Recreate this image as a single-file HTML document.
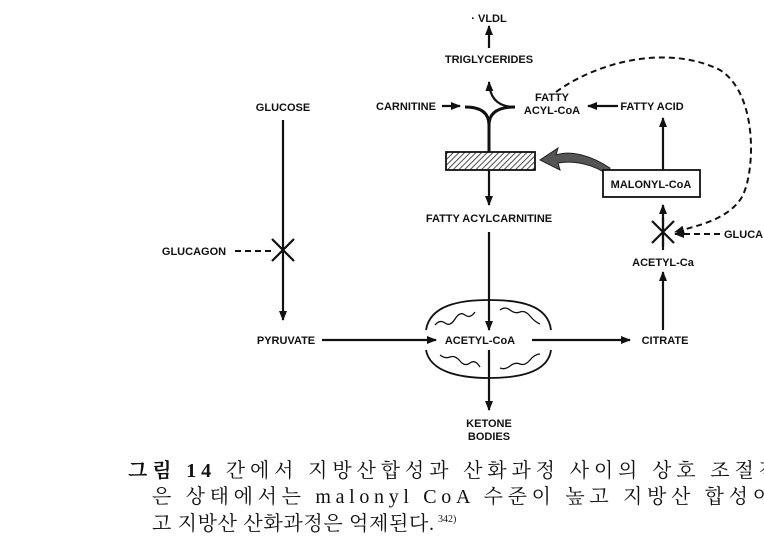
<!DOCTYPE html>
<html><head><meta charset="utf-8"><style>
html,body{margin:0;padding:0;background:#fff;width:764px;height:555px;overflow:hidden}
svg{display:block}
.l{font-family:"Liberation Sans",sans-serif;font-weight:bold;font-size:11px;fill:#111}
.k{font-family:"Liberation Serif","Noto Serif CJK SC","Noto Sans CJK KR",serif;font-size:20px;fill:#111}
</style></head><body>
<svg width="764" height="555" viewBox="0 0 764 555">
<defs>
<marker id="a" markerWidth="10" markerHeight="8" refX="9" refY="4" orient="auto" markerUnits="userSpaceOnUse"><path d="M0,0 L10,4 L0,8 Z" fill="#111"/></marker>
<pattern id="h" width="4" height="4" patternUnits="userSpaceOnUse" patternTransform="rotate(45)"><rect width="4" height="4" fill="#fff"/><line x1="0" y1="0" x2="0" y2="4" stroke="#222" stroke-width="1.6"/></pattern>
</defs>
<g stroke="#111" stroke-width="2.2" fill="none">
<line x1="489" y1="48" x2="489" y2="26" marker-end="url(#a)"/>
<path d="M515,107 Q490,107 489,82" marker-end="url(#a)"/>
<path d="M465,107 Q489,107 489,125 Q489,107 515,107" stroke-width="3"/>
<line x1="489" y1="125" x2="489" y2="152" stroke-width="3"/>
<line x1="442" y1="106" x2="460" y2="106" marker-end="url(#a)"/>
<line x1="618" y1="106" x2="588" y2="106" marker-end="url(#a)"/>
<line x1="663" y1="170" x2="663" y2="118" marker-end="url(#a)"/>
<line x1="489" y1="170" x2="489" y2="205" marker-end="url(#a)"/>
<line x1="489" y1="232" x2="489" y2="330" marker-end="url(#a)"/>
<line x1="489" y1="350" x2="489" y2="410" marker-end="url(#a)"/>
<line x1="663" y1="250" x2="663" y2="205" marker-end="url(#a)"/>
<line x1="663" y1="330" x2="663" y2="272" marker-end="url(#a)"/>
<line x1="283" y1="120" x2="283" y2="320" marker-end="url(#a)"/>
<line x1="322" y1="340" x2="436" y2="340" marker-end="url(#a)"/>
<line x1="532" y1="340" x2="630" y2="340" marker-end="url(#a)"/>
<path d="M272,239 L294,261 M294,239 L272,261"/>
<path d="M652,221 L674,243 M674,221 L652,243 M663,218 L663,246"/>
<g stroke-dasharray="6,4" stroke-width="2">
<line x1="235" y1="251" x2="272" y2="251"/>
<line x1="720" y1="234" x2="675" y2="234" marker-end="url(#a)"/>
<path d="M556,92 C600,60 670,45 720,70 C760,95 755,180 740,200 C725,220 700,225 675,232" marker-end="url(#a)"/>
</g>
<path d="M426,330 C430,305 460,300 489,300 C520,300 548,305 551,330" stroke-width="1.8"/>
<path d="M426,350 C430,372 460,378 489,378 C520,378 548,372 551,350" stroke-width="1.8"/>
<path d="M435,325 q5,-6 10,-2 t10,-4 t10,-4 t10,-3 M500,310 q5,-4 10,0 t10,2 t10,4 t10,8" stroke-width="1.3"/>
<path d="M440,355 q5,4 10,2 t10,4 t10,2 t10,4 M500,368 q5,2 10,-2 t10,-2 t10,-4 t10,-6" stroke-width="1.3"/>
</g>
<rect x="446" y="152" width="89" height="18" fill="url(#h)" stroke="#111" stroke-width="1.8"/>
<path d="M610,168 C590,155 570,150 556,155 L558,148 L540,160 L560,170 L558,163 C575,160 595,165 608,175 Z" fill="#555" stroke="#222" stroke-width="1"/>
<rect x="603" y="170" width="97" height="27" fill="#fff" stroke="#111" stroke-width="1.8"/>
<g class="l" text-anchor="middle">
<text x="489" y="22">· VLDL</text>
<text x="489" y="63">TRIGLYCERIDES</text>
<text x="406" y="110">CARNITINE</text>
<text x="552" y="101">FATTY</text>
<text x="552" y="114">ACYL-CoA</text>
<text x="652" y="110">FATTY ACID</text>
<text x="651" y="188">MALONYL-CoA</text>
<text x="489" y="222">FATTY ACYLCARNITINE</text>
<text x="663" y="266">ACETYL-Ca</text>
<text x="724" y="238" text-anchor="start">GLUCA</text>
<text x="283" y="111">GLUCOSE</text>
<text x="194" y="255">GLUCAGON</text>
<text x="286" y="344">PYRUVATE</text>
<text x="480" y="344">ACETYL-CoA</text>
<text x="665" y="344">CITRATE</text>
<text x="489" y="427">KETONE</text>
<text x="489" y="440">BODIES</text>
</g>
<text class="k" x="128" y="477" textLength="650" lengthAdjust="spacing"><tspan font-weight="bold">그림 14</tspan>  간에서 지방산합성과 산화과정 사이의 상호 조절적</text>
<text class="k" x="152" y="503" textLength="620" lengthAdjust="spacing">은 상태에서는  malonyl CoA 수준이 높고 지방산 합성이</text>
<text class="k" x="152" y="530" textLength="282" lengthAdjust="spacing">고 지방산 산화과정은 억제된다.</text>
<text x="438" y="522" style="font-family:'Liberation Serif',serif;font-size:10px;fill:#111">342)</text>
</svg>
</body></html>
